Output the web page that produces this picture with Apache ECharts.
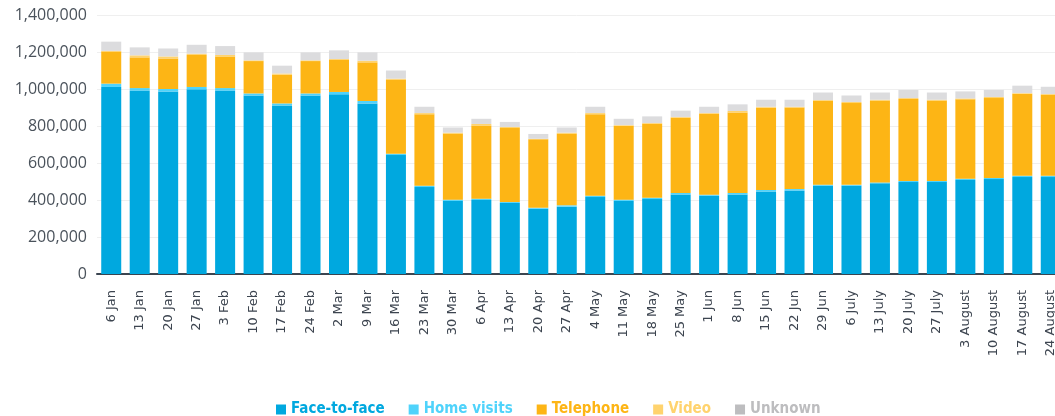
<!DOCTYPE html>
<html>
<head>
<meta charset="utf-8">
<script src="https://cdn.jsdelivr.net/npm/echarts@6/dist/echarts.min.js"></script>
<style>
  html, body { margin: 0; padding: 0; background: #fff; }
  #chart { width: 1055px; height: 416px; }
</style>
</head>
<body>
<div id="chart"></div>
<script>
// weekly contacts by type
const weeks = ['6 Jan', '13 Jan', '20 Jan', '27 Jan', '3 Feb', '10 Feb', '17 Feb', '24 Feb', '2 Mar', '9 Mar',
  '16 Mar', '23 Mar', '30 Mar', '6 Apr', '13 Apr', '20 Apr', '27 Apr', '4 May', '11 May', '18 May', '25 May',
  '1 Jun', '8 Jun', '15 Jun', '22 Jun', '29 Jun', '6 July', '13 July', '20 July', '27 July',
  '3 August', '10 August', '17 August', '24 August']

const faceToFace = [1011000, 992000, 987000, 998000, 992000, 965000, 911000, 965000, 971000, 922000,
  643000, 470000, 395000, 400000, 384000, 353000, 364000, 416000, 395000, 405000, 430000,
  423000, 430000, 446000, 452000, 477000, 477000, 490000, 497000, 497000,
  508000, 513000, 524000, 524000]
const homeVisits = [18000, 13000, 13000, 13000, 13000, 11000, 11000, 11000, 13000, 13000,
  7000, 7000, 7000, 7000, 5000, 5000, 7000, 7000, 7000, 7000, 8000,
  6000, 8000, 8000, 7000, 6000, 5000, 5000, 6000, 6000,
  7000, 6000, 7000, 7000]
const telephone = [174000, 166000, 165000, 173000, 171000, 175000, 155000, 175000, 173000, 209000,
  399000, 386000, 358000, 396000, 400000, 370000, 389000, 440000, 400000, 400000, 407000,
  437000, 435000, 445000, 441000, 452000, 442000, 443000, 443000, 435000,
  429000, 432000, 444000, 438000]
const video = [3000, 11000, 11000, 7000, 8000, 4000, 7000, 4000, 5000, 9000,
  7000, 7000, 4000, 8000, 6000, 3000, 4000, 7000, 3000, 4000, 4000,
  4000, 8000, 5000, 4000, 5000, 6000, 4000, 5000, 4000,
  5000, 6000, 3000, 4000]
const unknown = [50000, 43000, 43000, 48000, 48000, 43000, 42000, 43000, 47000, 45000,
  44000, 34000, 28000, 28000, 27000, 26000, 28000, 34000, 34000, 36000, 34000,
  34000, 36000, 38000, 38000, 41000, 35000, 39000, 44000, 39000,
  38000, 38000, 40000, 39000]

const seriesNames = ['Face-to-face', 'Home visits', 'Telephone', 'Video', 'Unknown']
const barColors = ['#00a8df', '#4fd3fb', '#fdb515', '#ffd36e', '#dcdcde']
const legendColors = ['#00a8df', '#4fd3fb', '#fdb515', '#ffd36e', '#bdbdbf']
const seriesData = [faceToFace, homeVisits, telephone, video, unknown]

const chart = echarts.init(document.getElementById('chart'))

const option = {
  animation: false,
  grid: { left: 97, right: -10, top: 15, bottom: 142, outerBoundsMode: 'none' },
  legend: {
    left: 271,
    top: 397,
    itemWidth: 10,
    itemHeight: 10,
    itemGap: 24,
    icon: 'rect',
    textStyle: {
      fontFamily: '"DejaVu Sans Condensed", "DejaVu Sans", sans-serif',
      fontWeight: 'bold',
      fontSize: 15
    },
    data: seriesNames.map((n, i) => ({
      name: n,
      itemStyle: { color: legendColors[i] },
      textStyle: { color: legendColors[i] }
    }))
  },
  xAxis: {
    type: 'category',
    data: weeks,
    axisLine: { lineStyle: { color: '#3b4550', width: 2 } },
    axisTick: { show: false },
    axisLabel: {
      rotate: 90,
      interval: 0,
      margin: 16,
      color: '#3d4550',
      fontFamily: '"DejaVu Sans", sans-serif',
      fontSize: 13
    }
  },
  yAxis: {
    type: 'value',
    min: 0,
    max: 1400000,
    interval: 200000,
    axisLine: { show: false },
    axisTick: { show: false },
    splitLine: { lineStyle: { color: '#efefef' } },
    axisLabel: {
      margin: 10,
      color: '#4a525b',
      fontFamily: '"Open Sans", sans-serif',
      fontSize: 16,
      formatter: v => v.toLocaleString('en-US')
    }
  },
  series: seriesNames.map((n, i) => ({
    name: n,
    type: 'bar',
    stack: 'total',
    barWidth: 20,
    itemStyle: { color: barColors[i] },
    data: seriesData[i]
  }))
}

chart.setOption(option)
</script>
</body>
</html>
